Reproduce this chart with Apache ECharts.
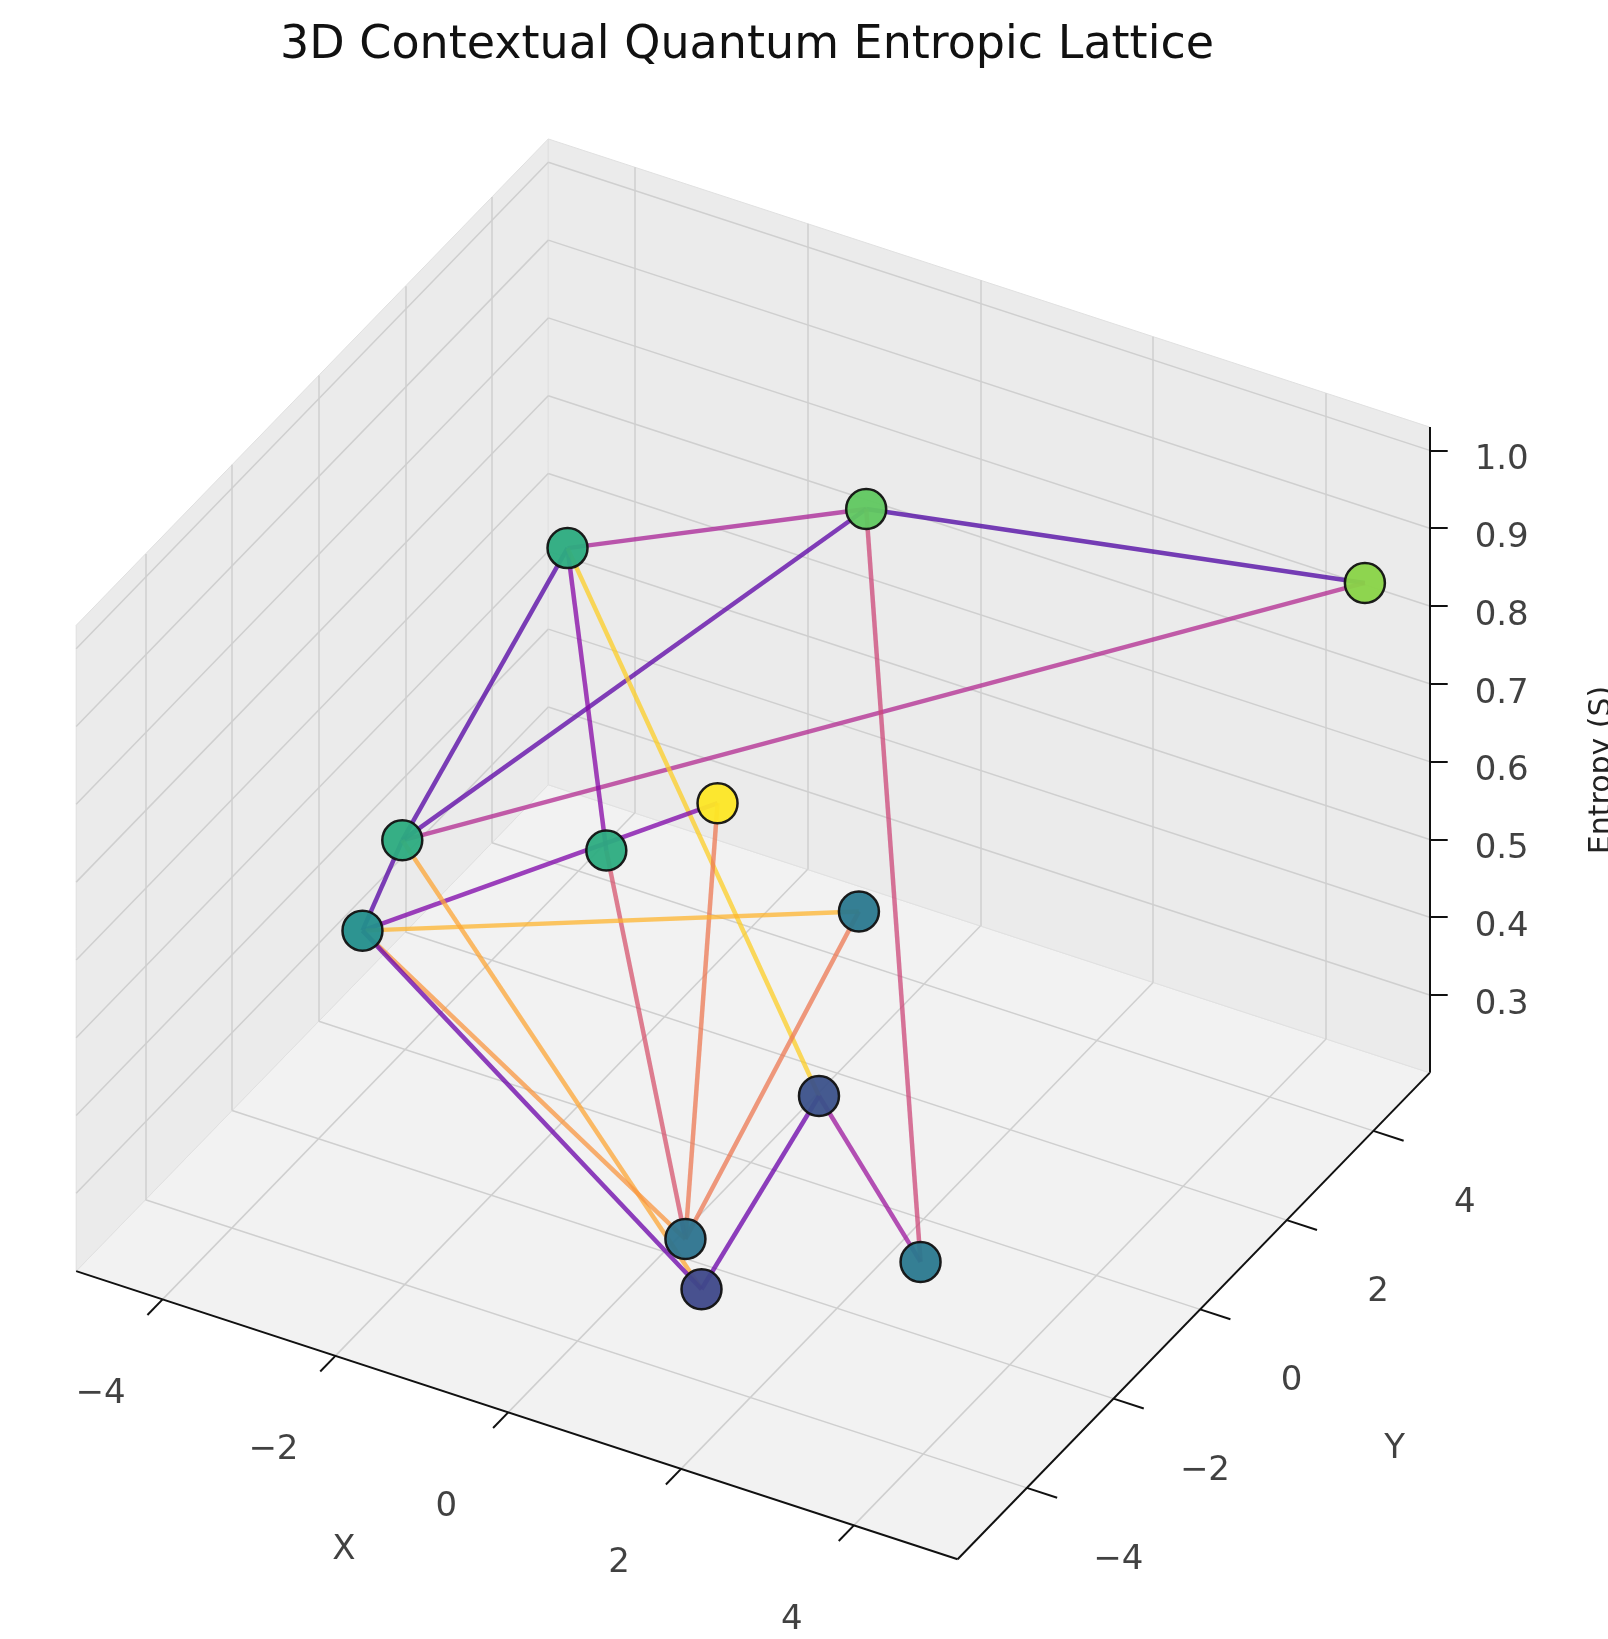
<!DOCTYPE html>
<html><head><meta charset="utf-8">
<script src="https://cdn.jsdelivr.net/npm/echarts@6/dist/echarts.min.js"></script>
<style>html,body{margin:0;padding:0;background:#fff}#c{width:1608px;height:1639px}</style>
</head><body><div id="c"></div>
<script>
// node data
const nodeX = [-3.83, -0.87, 4.5, 1.62, -2.79, -0.91, -3.0, 0.7, 4.23, 1.87, 1.16, 1.61];
const nodeY = [3.41, 4.40, 5.2, -4.0, -2.48, -1.52, -2.98, 1.1, -4.52, -5.24, -0.74, -4.35];
const nodeZ = [0.655, 0.756, 0.81, 0.95, 0.655, 0.655, 0.56, 0.485, 0.485, 0.47, 0.37, 0.345];
// edges
const edgeFrom = [0, 1, 2, 0, 1, 0, 0, 6, 5, 3, 7, 6, 4, 4, 6, 6, 10, 10, 1];
const edgeTo   = [1, 2, 4, 4, 4, 5, 10, 3, 9, 9, 9, 7, 6, 11, 9, 11, 11, 8, 8];
const edgeColor = ['#a82296','#4c02a1','#b12a90','#5302a3','#5b01a5','#8606a6','#fcce25','#7e03a8',
  '#d5546e','#ec7853','#ec7853','#fdb42f','#5402a3','#fca636','#f89540','#6a00a8','#6a00a8','#9c179e','#cc4778'];
const xTicks = [-4, -2, 0, 2, 4];
const yTicks = [-4, -2, 0, 2, 4];
const zTicks = [0.3, 0.4, 0.5, 0.6, 0.7, 0.8, 0.9, 1.0];
const XR = [-5, 5.2], YR = [-5.6, 5.3], ZR = [0.2, 1.03];

const S = 1.05;
function P(x, y, z) {
  return [S * (912 + (x - 5.2) * 82.3 + (y + 5.6) * 41.25),
          S * (1485 + (x - 5.2) * 26.9 - (y + 5.6) * 42.5 - (z - 0.2) * 741)];
}
const seg = (a, b, style) => ({coords: [P(...a), P(...b)], lineStyle: style});

const panes = [
  [[XR[0],YR[0],ZR[0]],[XR[1],YR[0],ZR[0]],[XR[1],YR[1],ZR[0]],[XR[0],YR[1],ZR[0]]],
  [[XR[0],YR[0],ZR[0]],[XR[0],YR[1],ZR[0]],[XR[0],YR[1],ZR[1]],[XR[0],YR[0],ZR[1]]],
  [[XR[0],YR[1],ZR[0]],[XR[1],YR[1],ZR[0]],[XR[1],YR[1],ZR[1]],[XR[0],YR[1],ZR[1]]]
];
const paneColors = ['#f2f2f2', '#ebebeb', '#ebebeb'];

const grid = [];
const gs = {color: '#cfcfcf', width: 1.5, opacity: 1};
xTicks.forEach(t => { grid.push(seg([t,YR[0],ZR[0]],[t,YR[1],ZR[0]],gs)); grid.push(seg([t,YR[1],ZR[0]],[t,YR[1],ZR[1]],gs)); });
yTicks.forEach(t => { grid.push(seg([XR[0],t,ZR[0]],[XR[1],t,ZR[0]],gs)); grid.push(seg([XR[0],t,ZR[0]],[XR[0],t,ZR[1]],gs)); });
zTicks.forEach(t => { grid.push(seg([XR[0],YR[0],t],[XR[0],YR[1],t],gs)); grid.push(seg([XR[0],YR[1],t],[XR[1],YR[1],t],gs)); });

const ax = {color: '#111', width: 2, opacity: 1};
const axes = [seg([XR[0],YR[0],ZR[0]],[XR[1],YR[0],ZR[0]],ax), seg([XR[1],YR[0],ZR[0]],[XR[1],YR[1],ZR[0]],ax),
  seg([XR[1],YR[1],ZR[0]],[XR[1],YR[1],ZR[1]],ax)];
const labels = [];
xTicks.forEach(t => { axes.push(seg([t,YR[0],ZR[0]],[t,YR[0]-0.35,ZR[0]],ax)); const p = P(t,YR[0]-1.2,ZR[0]-0.04); labels.push([p[0]-10,p[1]+10,String(t).replace('-','\u2212')]); });
yTicks.forEach(t => { axes.push(seg([XR[1],t,ZR[0]],[XR[1]+0.35,t,ZR[0]],ax)); const p = P(XR[1]+1.0,t,ZR[0]-0.05); labels.push([p[0]+5,p[1]+5,String(t).replace('-','\u2212')]); });
zTicks.forEach(t => { const p = P(XR[1],YR[1],t); axes.push({coords:[p,[p[0]+18,p[1]]],lineStyle:ax}); labels.push([p[0]+72,p[1]+10,t.toFixed(1)]); });
const xl = P(-0.6, YR[0]-2.6, ZR[0]-0.05), yl = P(XR[1]+2.5, -0.5, ZR[0]-0.06);
labels.push([xl[0], xl[1], 'X']); labels.push([yl[0], yl[1], 'Y']);

const edges = edgeFrom.map((f, i) => ({coords: [P(nodeX[f],nodeY[f],nodeZ[f]), P(nodeX[edgeTo[i]],nodeY[edgeTo[i]],nodeZ[edgeTo[i]])],
  lineStyle: {color: edgeColor[i], width: 4.5, opacity: 0.75}}));
const nodes = nodeX.map((x, i) => { const p = P(x, nodeY[i], nodeZ[i]); return [p[0], p[1], nodeZ[i]]; });

const chart = echarts.init(document.getElementById('c'));
chart.setOption({
  animation: false,
  title: {text: '3D Contextual Quantum Entropic Lattice', left: 742, top: 18, textAlign: 'center',
    textStyle: {fontFamily: 'DejaVu Sans', fontSize: 46, fontWeight: 'normal', color: '#111'}},
  grid: {left: 0, right: 0, top: 0, bottom: 0},
  xAxis: {type: 'value', min: 0, max: 1608, show: false},
  yAxis: {type: 'value', min: 0, max: 1639, inverse: true, show: false},
  visualMap: {show: false, seriesIndex: 4, dimension: 2, min: 0.175, max: 0.95,
    inRange: {color: ['#440154','#482878','#3e4989','#31688e','#26828e','#1f9e89','#35b779','#6ece58','#b5de2b','#fde725']}},
  series: [
    {type: 'custom', coordinateSystem: 'cartesian2d', silent: true, data: panes.map((p, i) => i),
      renderItem: (params, api) => ({type: 'polygon', shape: {points: panes[api.value(0)].map(v => api.coord(P(...v)))},
        style: {fill: paneColors[api.value(0)], stroke: '#e0e0e0'}})},
    {type: 'lines', coordinateSystem: 'cartesian2d', data: grid, silent: true, z: 2},
    {type: 'lines', coordinateSystem: 'cartesian2d', data: axes, silent: true, z: 3},
    {type: 'lines', coordinateSystem: 'cartesian2d', data: edges, z: 4},
    {type: 'scatter', data: nodes, symbolSize: 40, z: 5, itemStyle: {borderColor: '#111', borderWidth: 2.5, opacity: 0.95}},
    {type: 'scatter', data: labels, symbolSize: 0, z: 6, silent: true,
      label: {show: true, position: 'inside', formatter: p => p.data[2], fontFamily: 'DejaVu Sans', fontSize: 34, color: '#111'}}
  ],
  graphic: [{type: 'text', x: 1602, y: 770, rotation: Math.PI / 2, style: {text: 'Entropy (S)', fontFamily: 'DejaVu Sans',
    fontSize: 30, fill: '#222', textAlign: 'center', textVerticalAlign: 'middle'}}]
});
</script></body></html>
